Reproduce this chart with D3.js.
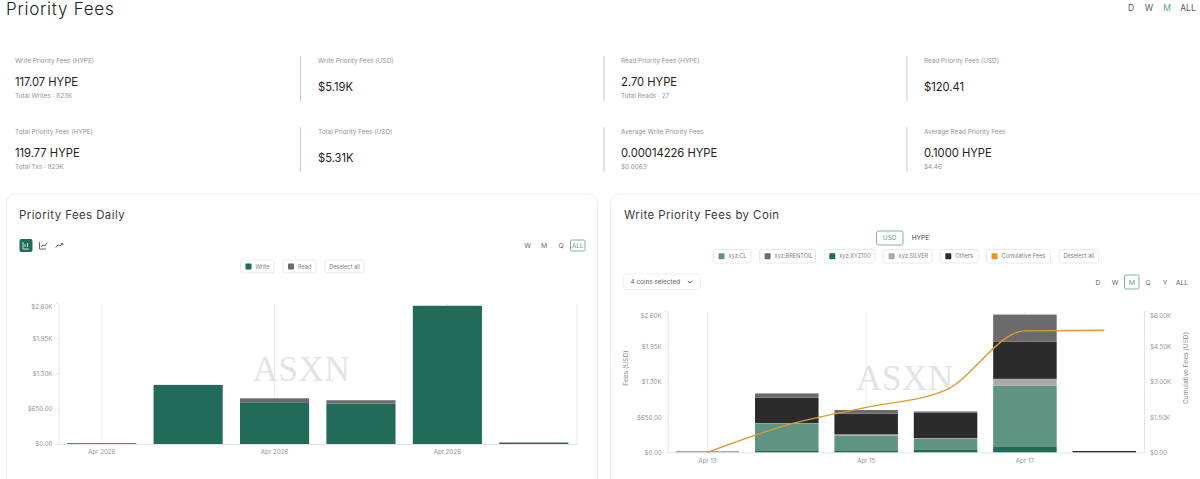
<!DOCTYPE html>
<html><head><meta charset="utf-8">
<script src="https://cdn.jsdelivr.net/npm/d3@7"></script>
<style>
html,body{margin:0;padding:0;background:#fff;overflow:hidden}
svg{display:block;font-family:Inter,"Noto Sans",sans-serif}
</style></head><body><svg id="c" width="1200" height="479"></svg>
<script>
// ---------- data ----------
const days = ["Apr 13","Apr 14","Apr 15","Apr 16","Apr 17","Apr 18"];
const dailyTickDays = ["Apr 13","Apr 15","Apr 17"];
const writeUsd = [14,1090,770,745,2549,24];
const readUsd  = [4,0,73,62,0,6];
const feeTicks = [0,650,1300,1950,2600];
const feeTickLabels = ["$0.00","$650.00","$1.30K","$1.95K","$2.60K"];
const cumTicks = [0,1500,3000,4500,6000];
const cumTickLabels = ["$0.00","$1.50K","$3.00K","$4.50K","$6.00K"];
const xyz100 = [0,37,24,55,98,0];
const xyzCL = [0,497,276,190,1128,0];
const xyzSilver = [24,5,31,18,128,0];
const others = [0,466,380,472,687,24];
const brentoil = [0,80,68,18,497,0];
const cumulative = [0,1157,1910,2646,5165,5190];
const kpiLabels = ["Write Priority Fees (HYPE)","Write Priority Fees (USD)","Read Priority Fees (HYPE)","Read Priority Fees (USD)","Total Priority Fees (HYPE)","Total Priority Fees (USD)","Average Write Priority Fees","Average Read Priority Fees"];
const kpiValues = ["117.07 HYPE","$5.19K","2.70 HYPE","$120.41","119.77 HYPE","$5.31K","0.00014226 HYPE","0.1000 HYPE"];
const kpiSubs = ["Total Writes : 823K","","Total Reads : 27","","Total Txs : 823K","","$0.0063","$4.46"];

// ---------- helpers ----------
const svg = d3.select("#c");
const TEAL="#5f9f8c", GREEN="#216b58";
function txt(x,y,s,size,fill,anchor,extra){
  const t=svg.append("text").attr("x",x).attr("y",y).attr("font-size",size).attr("fill",fill)
    .attr("text-anchor",anchor||"start").attr("dominant-baseline","central").text(s);
  if(extra) Object.entries(extra).forEach(([k,v])=>t.attr(k,v));
  return t;
}
function box(x0,x1,y0,y1,stroke,r){
  svg.append("rect").attr("x",x0).attr("y",y0).attr("width",x1-x0).attr("height",y1-y0)
    .attr("rx",r||2).attr("fill","#fff").attr("stroke",stroke||"#e3e3e3").attr("stroke-width",.8);
}
function legendChip(x0,x1,y0,y1,color,label){
  box(x0,x1,y0,y1);
  const cy=(y0+y1)/2;
  if(color){
    svg.append("rect").attr("x",x0+5).attr("y",cy-3).attr("width",6).attr("height",6).attr("rx",.8).attr("fill",color);
    txt(x0+15,cy,label,5.6,"#808080");
  } else txt((x0+x1)/2,cy,label,5.6,"#808080","middle");
}

// ---------- header ----------
txt(6,9,"Priority Fees",17,"#222",null,{"letter-spacing":.75,"font-weight":300});
[["D",1131],["W",1149],["M",1167],["ALL",1188]].forEach(([s,x])=>txt(x,7.5,s,8.5,s==="M"?TEAL:"#555","middle"));

// ---------- KPIs ----------
const colX=[15,318,621,924], divX=[300.5,604,907], rowY=[61,132];
kpiLabels.forEach((l,i)=>{
  const c=i%4,r=i<4?0:1,x=colX[c],y=rowY[r];
  txt(x,y,l,6.4,"#949494");
  txt(x,y+(kpiSubs[i]?20.5:26),kpiValues[i],11.2,"#222");
  if(kpiSubs[i]) txt(x,y+35,kpiSubs[i],6.4,"#949494");
});
divX.forEach(x=>[[56,101],[127,172]].forEach(([a,b])=>
  svg.append("line").attr("x1",x).attr("x2",x).attr("y1",a).attr("y2",b).attr("stroke","#c9c9c9")));

// ---------- cards ----------
svg.append("rect").attr("x",6.5).attr("y",194).attr("width",591).attr("height",300).attr("rx",9).attr("fill","#fff").attr("stroke","#eeeeee");
svg.append("rect").attr("x",610.5).attr("y",194).attr("width",610).attr("height",300).attr("rx",9).attr("fill","#fff").attr("stroke","#eeeeee");
txt(19,214.5,"Priority Fees Daily",11.4,"#3a3a3a",null,{"letter-spacing":.45});
txt(624,214.5,"Write Priority Fees by Coin",11.4,"#3a3a3a",null,{"letter-spacing":.45});

// ---------- left controls ----------
svg.append("rect").attr("x",19.5).attr("y",239).attr("width",13).attr("height",13).attr("rx",2).attr("fill",GREEN);
svg.append("path").attr("d","M23 242v7h6M25 247v-3M27.5 247v-4").attr("stroke","#fff").attr("fill","none").attr("stroke-width",.8);
svg.append("path").attr("d","M39.5 242v7h6.5M41 247l2-2 2 1 1.5-3").attr("stroke","#555").attr("fill","none").attr("stroke-width",.9);
svg.append("path").attr("d","M55.5 247.5l2.5-2.5 2 1 2.5-2.5M61 243.5h1.8v1.8").attr("stroke","#555").attr("fill","none").attr("stroke-width",.9);
[["W",527.5],["M",544],["Q",561]].forEach(([s,x])=>txt(x,245.5,s,6.8,"#666","middle"));
box(570.5,585,240,251,TEAL,1.5); txt(577.7,245.5,"ALL",6.2,TEAL,"middle");
legendChip(240.5,274,260,273,GREEN,"Write");
legendChip(283,316,260,273,"#6b6b6b","Read");
legendChip(325,364,260,273,null,"Deselect all");

// ---------- right controls ----------
box(876.5,903,231,245,TEAL,2); txt(889.7,238,"USD",6.6,TEAL,"middle");
txt(920.5,238,"HYPE",6.6,"#444","middle");
[[713.5,751,"#5f9482","xyz:CL"],[759.6,815.5,"#6b6b6b","xyz:BRENTOIL"],[824.3,875,GREEN,"xyz:XYZ100"],
 [883.6,932,"#a9a9a9","xyz:SILVER"],[940.3,978,"#2b2b2b","Others"],[986.5,1050.5,"#f0960e","Cumulative Fees"],[1059,1098.6,null,"Deselect all"]]
 .forEach(d=>legendChip(d[0],d[1],249.5,263,d[2],d[3]));
box(623.5,700.5,274,289.5,"#eeeeee",2);
txt(630.5,282,"4 coins selected",6.4,"#666");
svg.append("path").attr("d","M688 280.8l2.2 2.2 2.2-2.2").attr("stroke","#555").attr("fill","none");
[["D",1098],["W",1115],["Q",1148],["Y",1165],["ALL",1182]].forEach(([s,x])=>txt(x,282,s,6.8,"#666","middle"));
box(1124.5,1139,275,289,TEAL,1.5); txt(1131.7,282,"M",6.8,TEAL,"middle");

// ---------- charts ----------
function styleAxis(g,topShift){
  g.selectAll(".domain").attr("stroke","#e4e4e4");
  g.selectAll(".tick line").attr("stroke","#ececec");
  g.selectAll("text").attr("fill","#949494").attr("font-size",6.2).attr("font-family","Inter,sans-serif");
  if(topShift) g.selectAll(".tick:last-of-type text").attr("dy",`calc(0.32em + ${topShift}px)`);
}
function frame(x0,x1,y0,yTop,gridTop,xFmt,topShift){
  const x=d3.scaleBand().domain(days).range([x0,x1]).paddingInner(.2).paddingOuter(.1);
  const y=d3.scaleLinear().domain([0,2600]).range([y0,yTop]);
  svg.append("g").selectAll("line").data(dailyTickDays).join("line")
    .attr("x1",d=>x(d)+x.bandwidth()/2).attr("x2",d=>x(d)+x.bandwidth()/2)
    .attr("y1",gridTop).attr("y2",y0).attr("stroke","#e8e8e8").attr("stroke-width",.8);
  const gx=svg.append("g").attr("transform",`translate(0,${y0})`)
    .call(d3.axisBottom(x).tickValues(dailyTickDays).tickFormat(xFmt).tickSize(0).tickPadding(6));
  styleAxis(gx);
  const gy=svg.append("g").attr("transform",`translate(${x0},0)`)
    .call(d3.axisLeft(y).tickValues(feeTicks).tickFormat((d,i)=>feeTickLabels[i]).tickSize(3).tickPadding(3).tickSizeOuter(0));
  styleAxis(gy);
  gy.selectAll(".tick").filter(d=>d===2600).select("text").attr("transform",`translate(0,${topShift})`);
  gy.select(".domain").attr("d",`M0.5,${gridTop}V${y0}`);
  return {x,y};
}
function stackBars(f,keys,rows,colors){
  const stacked=d3.stack().keys(keys)(rows);
  svg.append("g").selectAll("g").data(stacked).join("g").attr("fill",d=>colors[d.key])
    .selectAll("rect").data(d=>d).join("rect")
    .attr("x",d=>f.x(d.data.day)).attr("width",f.x.bandwidth())
    .attr("y",d=>f.y(d[1])).attr("height",d=>Math.max(0,f.y(d[0])-f.y(d[1])));
}
function watermark(x,y){
  txt(x,y,"ASXN",35,"#e3e3e3","middle",{"font-family":"Liberation Serif,serif","letter-spacing":.6});
}

// left chart
const fL=frame(58.5,577,444,303,304,()=>"Apr 2026",4);
svg.append("line").attr("x1",577).attr("x2",577).attr("y1",304).attr("y2",444).attr("stroke","#eeeeee");
stackBars(fL,["write","read"],days.map((day,i)=>({day,write:writeUsd[i],read:readUsd[i]})),{write:GREEN,read:"#6b6b6b"});
watermark(301.5,369.5);

// right chart
const fR=frame(667.7,1144,452.3,311.2,312,d=>d,4.8);
const rows=days.map((day,i)=>({day,xyz100:xyz100[i],cl:xyzCL[i],silver:xyzSilver[i],others:others[i],brent:brentoil[i]}));
stackBars(fR,["xyz100","cl","silver","others","brent"],rows,{xyz100:GREEN,cl:"#5f9482",silver:"#a9a9a9",others:"#2b2b2b",brent:"#6b6b6b"});
const yC=d3.scaleLinear().domain([0,6000]).range([452.3,311.2]);
const gr=svg.append("g").attr("transform","translate(1144,0)")
  .call(d3.axisRight(yC).tickValues(cumTicks).tickFormat((d,i)=>cumTickLabels[i]).tickSize(3).tickPadding(3).tickSizeOuter(0));
styleAxis(gr);
gr.selectAll(".tick").filter(d=>d===6000).select("text").attr("transform","translate(0,4.8)");
gr.select(".domain").attr("d","M0.5,312V452.3");
watermark(905,378);
svg.append("path").datum(cumulative)
  .attr("d",d3.line().x((d,i)=>fR.x(days[i])+fR.x.bandwidth()/2).y(d=>yC(d)).curve(d3.curveMonotoneX))
  .attr("fill","none").attr("stroke","#dc9a35").attr("stroke-width",1.4);
txt(626,368,"Fees (USD)",6.6,"#8b8b8b","middle",{transform:"rotate(-90 626 368)"});
txt(1186,368,"Cumulative Fees (USD)",6.6,"#8b8b8b","middle",{transform:"rotate(-90 1186 368)"});
</script></body></html>
